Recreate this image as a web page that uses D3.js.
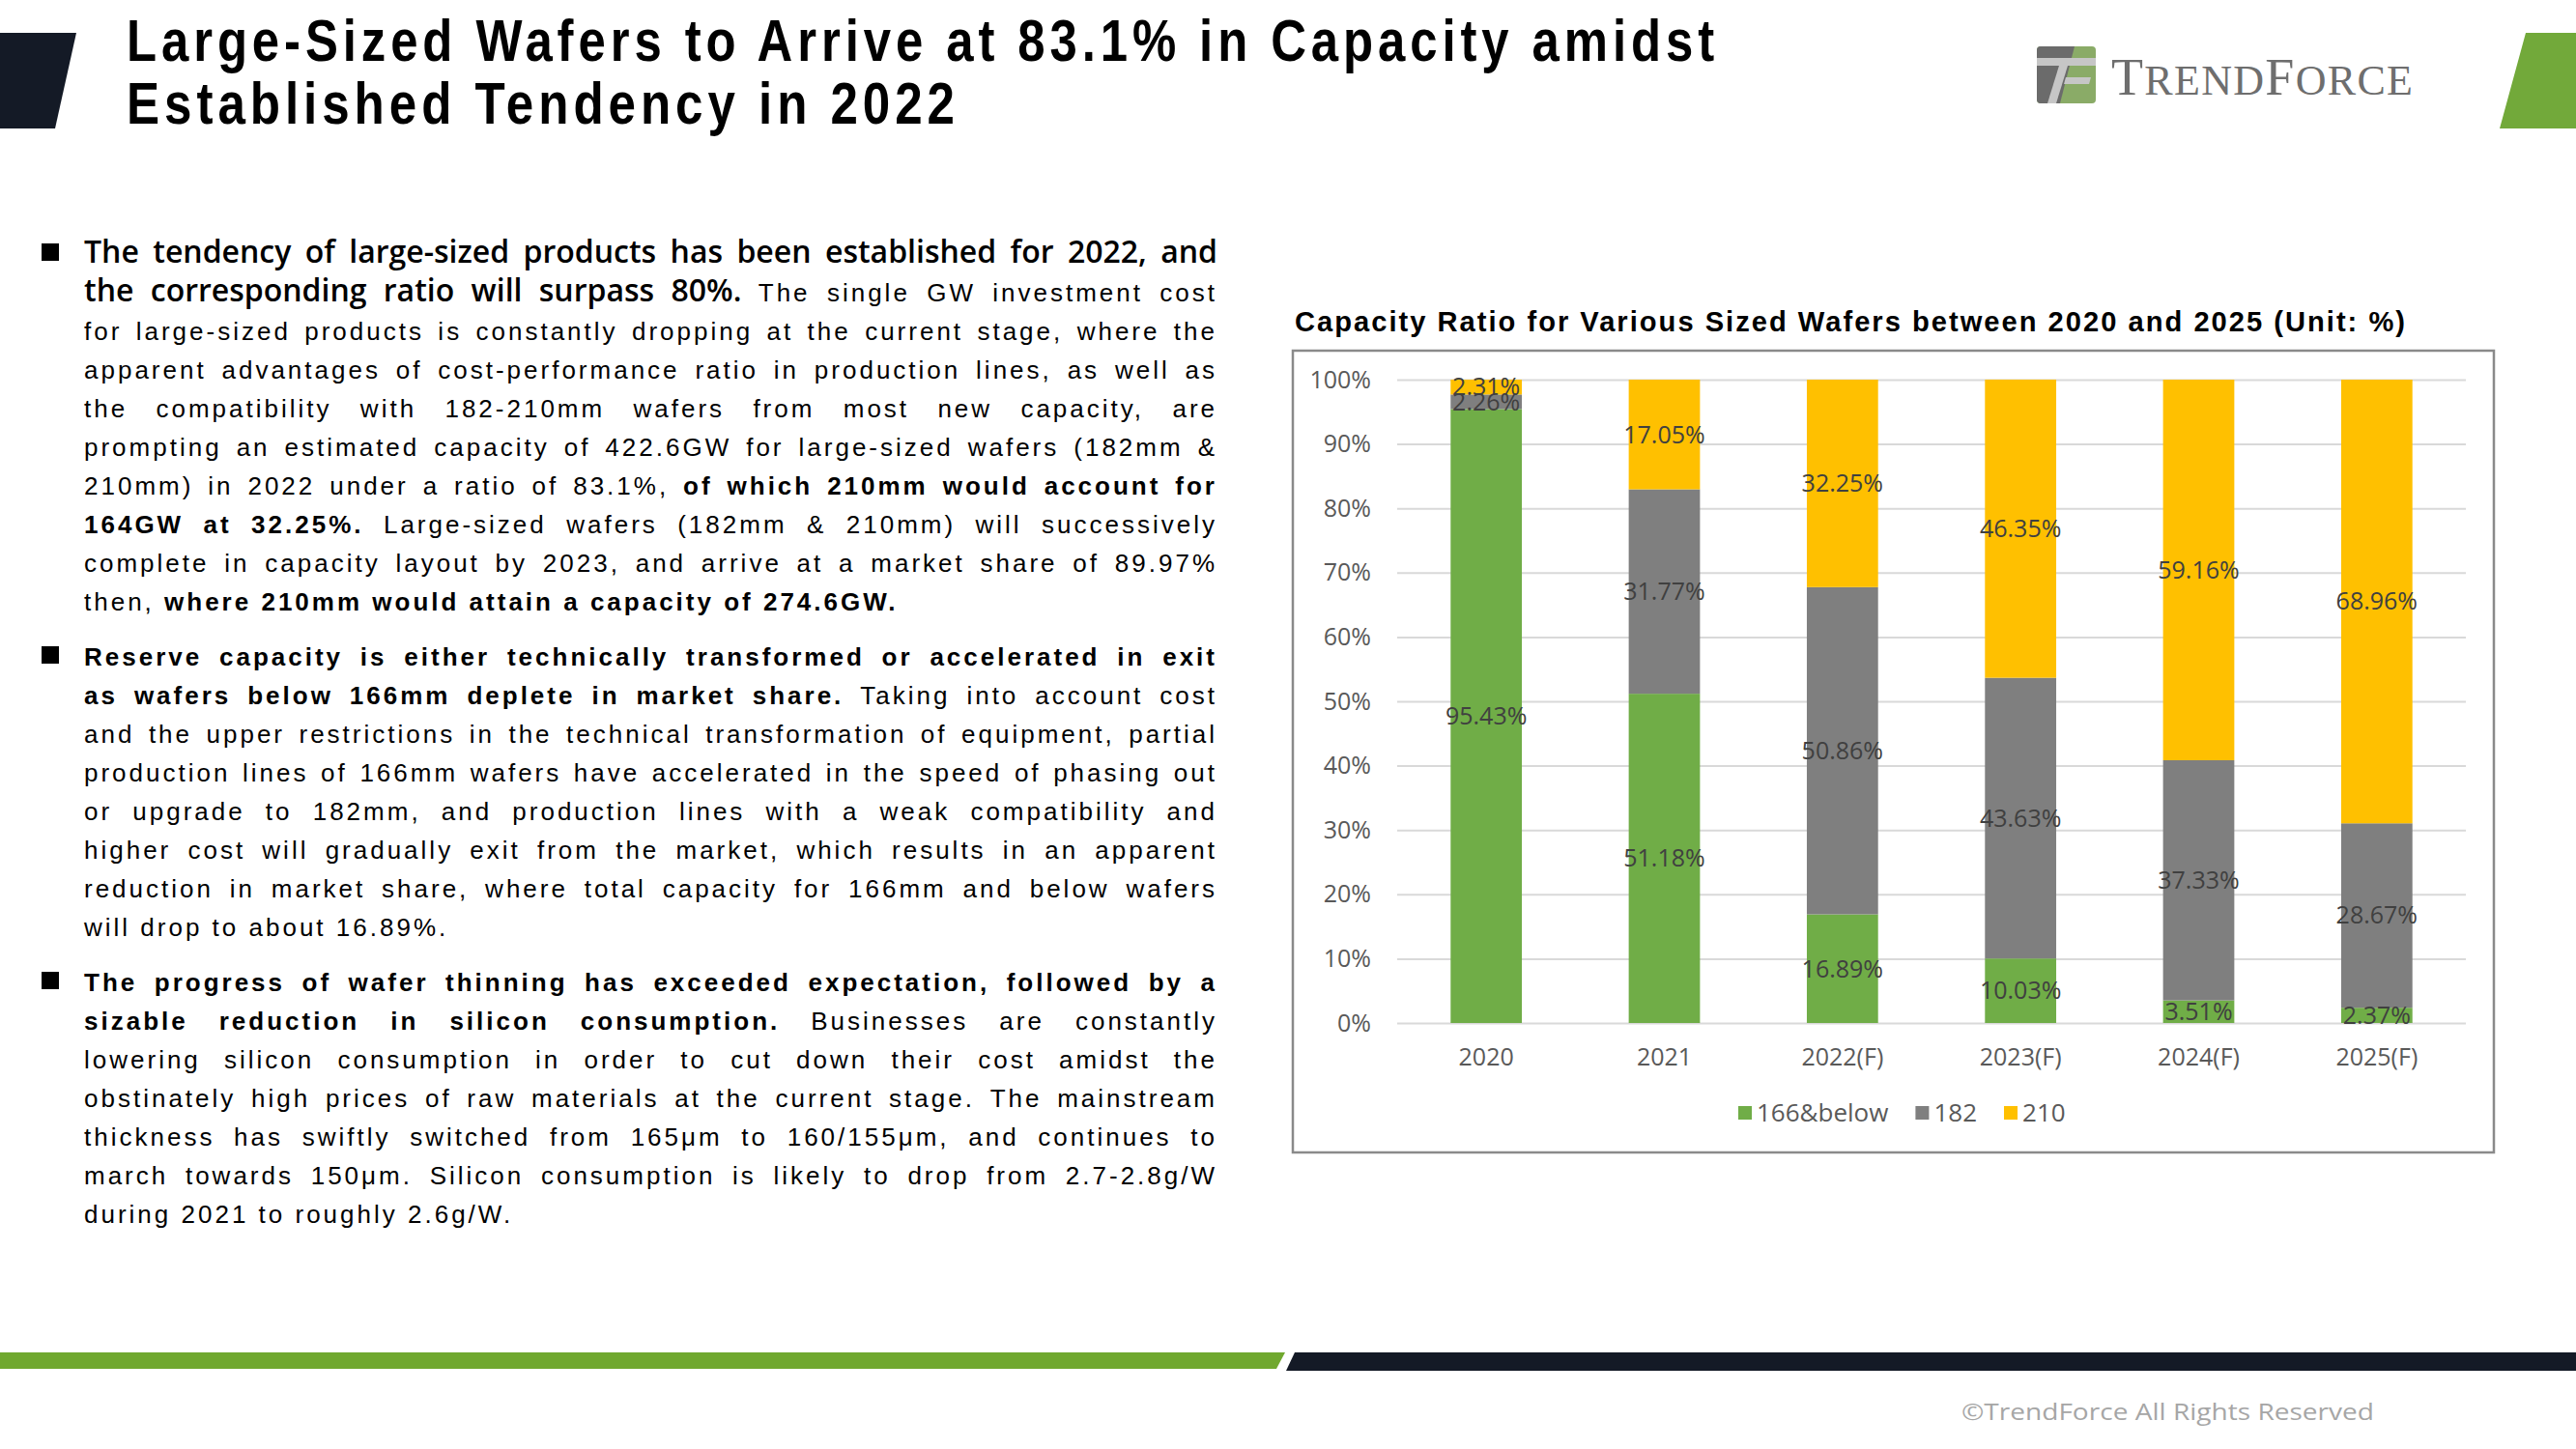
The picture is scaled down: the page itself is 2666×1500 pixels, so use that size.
<!DOCTYPE html>
<html><head><meta charset="utf-8">
<script src="https://cdn.jsdelivr.net/npm/d3@7"></script>
<style>body{margin:0;background:#fff}svg{display:block}</style>
</head><body>
<svg id="c" width="2666" height="1500"></svg>
<script>
// ---------- chart data ----------
const categories = ["2020","2021","2022(F)","2023(F)","2024(F)","2025(F)"];
const seriesNames = ["166&below","182","210"];
const values166 = [95.43,51.18,16.89,10.03,3.51,2.37];
const values182 = [2.26,31.77,50.86,43.63,37.33,28.67];
const values210 = [2.31,17.05,32.25,46.35,59.16,68.96];
const yTicks = [0,10,20,30,40,50,60,70,80,90,100];
const seriesColors = ["#70AD47","#7F7F7F","#FFC000"];

// ---------- text content ----------
const titleLines = ["Large-Sized Wafers to Arrive at 83.1% in Capacity amidst","Established Tendency in 2022"];
const chartTitle = "Capacity Ratio for Various Sized Wafers between 2020 and 2025 (Unit: %)";
const para1 = [
 [["big","The tendency of large-sized products has been established for 2022, and"]],
 [["big","the corresponding ratio will surpass 80%."],["reg","The single GW investment cost"]],
 [["reg","for large-sized products is constantly dropping at the current stage, where the"]],
 [["reg","apparent advantages of cost-performance ratio in production lines, as well as"]],
 [["reg","the compatibility with 182-210mm wafers from most new capacity, are"]],
 [["reg","prompting an estimated capacity of 422.6GW for large-sized wafers (182mm &"]],
 [["reg","210mm) in 2022 under a ratio of 83.1%,"],["bold","of which 210mm would account for"]],
 [["bold","164GW at 32.25%."],["reg","Large-sized wafers (182mm & 210mm) will successively"]],
 [["reg","complete in capacity layout by 2023, and arrive at a market share of 89.97%"]],
 [["reg","then,"],["bold","where 210mm would attain a capacity of 274.6GW."]]
];
const para2 = [
 [["bold","Reserve capacity is either technically transformed or accelerated in exit"]],
 [["bold","as wafers below 166mm deplete in market share."],["reg","Taking into account cost"]],
 [["reg","and the upper restrictions in the technical transformation of equipment, partial"]],
 [["reg","production lines of 166mm wafers have accelerated in the speed of phasing out"]],
 [["reg","or upgrade to 182mm, and production lines with a weak compatibility and"]],
 [["reg","higher cost will gradually exit from the market, which results in an apparent"]],
 [["reg","reduction in market share, where total capacity for 166mm and below wafers"]],
 [["reg","will drop to about 16.89%."]]
];
const para3 = [
 [["bold","The progress of wafer thinning has exceeded expectation, followed by a"]],
 [["bold","sizable reduction in silicon consumption."],["reg","Businesses are constantly"]],
 [["reg","lowering silicon consumption in order to cut down their cost amidst the"]],
 [["reg","obstinately high prices of raw materials at the current stage. The mainstream"]],
 [["reg","thickness has swiftly switched from 165μm to 160/155μm, and continues to"]],
 [["reg","march towards 150μm. Silicon consumption is likely to drop from 2.7-2.8g/W"]],
 [["reg","during 2021 to roughly 2.6g/W."]]
];

const svg = d3.select("#c");

// ---------- header decorations ----------
svg.append("polygon").attr("points","0,34 79,34 57,133 0,133").attr("fill","#141a26");
svg.append("polygon").attr("points","2614,34 2666,34 2666,133 2587,133").attr("fill","#72a93a");

const titleG = svg.append("g").attr("font-family","'Liberation Sans Narrow','Liberation Sans',Arial,sans-serif")
  .attr("font-weight",700).attr("font-size",62).attr("fill","#000");
titleG.append("text").attr("x",131).attr("y",63).attr("textLength",1648).attr("lengthAdjust","spacingAndGlyphs")
  .style("letter-spacing","6px").text(titleLines[0]);
titleG.append("text").attr("x",131).attr("y",128).attr("textLength",862).attr("lengthAdjust","spacingAndGlyphs")
  .style("letter-spacing","6px").text(titleLines[1]);

// logo
const logo = svg.append("g");
logo.append("rect").attr("x",2108).attr("y",48).attr("width",61).attr("height",59).attr("rx",4).attr("fill","#8aab67");
logo.append("path").attr("d","M2112,48 L2147,48 L2132,107 L2112,107 Q2108,107 2108,103 L2108,52 Q2108,48 2112,48Z").attr("fill","#6b6b6b");
logo.append("rect").attr("x",2108).attr("y",60).attr("width",61).attr("height",8).attr("fill","#c6c6c6");
logo.append("polygon").attr("points","2131,68 2140,68 2128,107 2119,107").attr("fill","#c6c6c6");
logo.append("polygon").attr("points","2138,80 2164,80 2162,87 2136,87").attr("fill","#c6c6c6");
const lt = logo.append("text").attr("x",2185).attr("y",98).attr("font-family","'Liberation Serif','Times New Roman',serif")
  .attr("fill","#6e6e6e").attr("textLength",312).attr("lengthAdjust","spacing");
[["T",54],["REND",44],["F",54],["ORCE",44]].forEach(([t,s])=>lt.append("tspan").attr("font-size",s).text(t));

// ---------- body text ----------
const styles = {
  big:  {family:"'Open Sans',sans-serif", size:32, weight:600, ls:0},
  reg:  {family:"'Liberation Sans',Arial,sans-serif", size:26, weight:400, ls:3},
  bold: {family:"'Liberation Sans',Arial,sans-serif", size:26, weight:700, ls:3}
};
const meas = svg.append("text").attr("x",-9999).attr("y",-9999);
function applyStyle(sel, st){
  sel.attr("font-family",styles[st].family).attr("font-size",styles[st].size)
     .attr("font-weight",styles[st].weight).style("letter-spacing",styles[st].ls+"px");
}
function measure(word, st){ applyStyle(meas, st); meas.text(word); return meas.node().getComputedTextLength(); }

const textLeft = 87, textRight = 1260;
function drawPara(lines, y0){
  svg.append("rect").attr("x",43).attr("y",y0-20).attr("width",18).attr("height",18).attr("fill","#000");
  lines.forEach((segs, li) => {
    const y = y0 + li*40;
    const words = [];
    segs.forEach(([st, txt]) => txt.split(" ").forEach(w => words.push({st, w, width: measure(w, st)})));
    const sum = d3.sum(words, d=>d.width);
    const isLast = li === lines.length-1;
    let xpos = textLeft;
    const gap = isLast ? null : (textRight - textLeft - sum)/(words.length-1);
    words.forEach((d,i) => {
      const t = svg.append("text").attr("x",xpos).attr("y",y).attr("fill","#000").text(d.w);
      applyStyle(t, d.st);
      const g = isLast ? (styles[d.st].size*0.278 + styles[d.st].ls) : gap;
      xpos += d.width + g;
    });
  });
}
drawPara(para1, 272);
drawPara(para2, 689);
drawPara(para3, 1026);
meas.remove();

// ---------- chart ----------
svg.append("rect").attr("x",1338).attr("y",363).attr("width",1243).attr("height",830)
  .attr("fill","none").attr("stroke","#8a8a8a").attr("stroke-width",2.5);
svg.append("text").attr("x",1340).attr("y",343).attr("font-family","'Liberation Sans',Arial,sans-serif")
  .attr("font-weight",700).attr("font-size",29).style("letter-spacing","2px")
  .attr("textLength",1151).attr("lengthAdjust","spacingAndGlyphs").attr("fill","#000").text(chartTitle);

const x = d3.scaleBand().domain(categories).range([1446,2552]).paddingInner(0.6).paddingOuter(0.3);
const y = d3.scaleLinear().domain([0,100]).range([1059,393]);

const yAxis = svg.append("g").attr("transform","translate(1446,0)")
  .call(d3.axisLeft(y).tickValues(yTicks).tickSize(-1106).tickPadding(27).tickFormat(d=>d+"%"));
yAxis.select(".domain").remove();
yAxis.selectAll(".tick line").attr("stroke","#d9d9d9").attr("stroke-width",2);
yAxis.selectAll(".tick text").attr("font-family","'Open Sans',sans-serif").attr("font-size",25).attr("fill","#595959");

const xAxis = svg.append("g").attr("transform","translate(0,1059)")
  .call(d3.axisBottom(x).tickSize(0).tickPadding(26));
xAxis.select(".domain").remove();
xAxis.selectAll(".tick text").attr("font-family","'Open Sans',sans-serif").attr("font-size",25).attr("fill","#595959");

const rows = categories.map((c,i)=>({cat:c, "166&below":values166[i], "182":values182[i], "210":values210[i]}));
const stacked = d3.stack().keys(seriesNames)(rows);

const layers = svg.append("g").selectAll("g").data(stacked).join("g").attr("fill",(d,i)=>seriesColors[i]);
layers.selectAll("rect").data(d=>d).join("rect")
  .attr("x",d=>x(d.data.cat)).attr("width",x.bandwidth())
  .attr("y",d=>y(d[1])).attr("height",d=>y(d[0])-y(d[1]));

const lab = svg.append("g").attr("font-family","'Open Sans',sans-serif").attr("font-size",25)
  .attr("fill","#404040").attr("text-anchor","middle");
stacked.forEach(layer => {
  layer.forEach(d => {
    lab.append("text").attr("x",x(d.data.cat)+x.bandwidth()/2).attr("y",(y(d[0])+y(d[1]))/2)
      .attr("dy","0.35em").text((d[1]-d[0]).toFixed(2)+"%");
  });
});

// legend
const leg = svg.append("g");
let lx = 1799;
seriesNames.forEach((s,i)=>{
  leg.append("rect").attr("x",lx).attr("y",1145).attr("width",14).attr("height",14).attr("fill",seriesColors[i]);
  const t = leg.append("text").attr("x",lx+19).attr("y",1152).attr("dy","0.35em")
    .attr("font-family","'Open Sans',sans-serif").attr("font-size",26).attr("fill","#595959").text(s);
  lx += 19 + t.node().getComputedTextLength() + 28;
});

// ---------- footer ----------
svg.append("polygon").attr("points","0,1400 1330,1400 1321,1417 0,1417").attr("fill","#70a82f");
svg.append("polygon").attr("points","1340,1400 2666,1400 2666,1419 1331,1419").attr("fill","#141a26");
svg.append("text").attr("x",2030).attr("y",1470).attr("font-family","'Open Sans',sans-serif")
  .attr("font-size",24).attr("fill","#a6a6a6").attr("textLength",427).attr("lengthAdjust","spacingAndGlyphs")
  .text("©TrendForce All Rights Reserved");
</script>
</body></html>
